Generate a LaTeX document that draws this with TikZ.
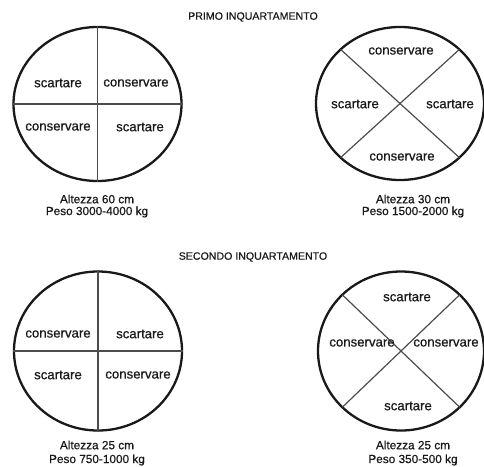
\documentclass[tikz,border=0pt]{standalone}
\usepackage{fontspec}
\setmainfont{Liberation Sans}[FakeBold=0.6]
\usetikzlibrary{shapes.geometric}
\begin{document}
\begin{tikzpicture}[x=1pt,y=-1pt,
  disc/.style={draw=black!90, line width=2.3pt, ellipse, inner sep=0pt},
  divider/.style={draw=black!70, line width=1.2pt},
  lbl/.style={font=\fontsize{13.2}{15}\selectfont, text=black!90, inner sep=0pt},
  captxt/.style={font=\fontsize{11.8}{14}\selectfont, text=black!90, inner sep=0pt, align=center},
  ttl/.style={font=\fontsize{10.6}{13}\selectfont, text=black!90, inner sep=0pt}]
\useasboundingbox (0,0) rectangle (484,466);

% titles
\node[ttl] (t1) at (253,17) {PRIMO INQUARTAMENTO};
\node[ttl] (t2) at (253,257) {SECONDO INQUARTAMENTO};

% top left
\node[disc, minimum width=168pt, minimum height=154pt] (A) at (97.5,104) {};
\draw[divider] (A.north) -- (A.south);
\draw[divider] (A.west) -- (A.east);
\node[lbl] (a1) at (58,83) {scartare};
\node[lbl] (a2) at (136,83) {conservare};
\node[lbl] (a3) at (58,127) {conservare};
\node[lbl] (a4) at (140,127) {scartare};
\node[captxt] (ac1) at (97,199) {Altezza 60 cm};
\node[captxt] (ac2) at (97,212) {Peso 3000-4000 kg};

% top right
\node[disc, minimum width=168pt, minimum height=153pt] (B) at (400,103.5) {};
\path (B.center) ++(45:84pt and 76.5pt) coordinate (B-ne);
\path (B.center) ++(135:84pt and 76.5pt) coordinate (B-nw);
\path (B.center) ++(225:84pt and 76.5pt) coordinate (B-sw);
\path (B.center) ++(315:84pt and 76.5pt) coordinate (B-se);
\draw[divider] (B-nw) -- (B-se);
\draw[divider] (B-ne) -- (B-sw);
\node[lbl] (b1) at (401,51) {conservare};
\node[lbl] (b2) at (355,104) {scartare};
\node[lbl] (b3) at (450,104) {scartare};
\node[lbl] (b4) at (402,157) {conservare};
\node[captxt] (bc1) at (413,199) {Altezza 30 cm};
\node[captxt] (bc2) at (413,212) {Peso 1500-2000 kg};

% bottom left
\node[disc, minimum width=168pt, minimum height=159pt] (C) at (98,351) {};
\draw[divider] (C.north) -- (C.south);
\draw[divider] (C.west) -- (C.east);
\node[lbl] (c1) at (58,334) {conservare};
\node[lbl] (c2) at (140,334) {scartare};
\node[lbl] (c3) at (58,375) {scartare};
\node[lbl] (c4) at (138,375) {conservare};
\node[captxt] (cc1) at (97,445) {Altezza 25 cm};
\node[captxt] (cc2) at (97,460) {Peso 750-1000 kg};

% bottom right
\node[disc, minimum width=166pt, minimum height=159pt] (D) at (401,351) {};
\path (D.center) ++(45:83pt and 79.5pt) coordinate (D-ne);
\path (D.center) ++(135:83pt and 79.5pt) coordinate (D-nw);
\path (D.center) ++(225:83pt and 79.5pt) coordinate (D-sw);
\path (D.center) ++(315:83pt and 79.5pt) coordinate (D-se);
\draw[divider] (D-nw) -- (D-se);
\draw[divider] (D-ne) -- (D-sw);
\node[lbl] (d1) at (407,297) {scartare};
\node[lbl] (d2) at (362,343) {conservare};
\node[lbl] (d3) at (446,343) {conservare};
\node[lbl] (d4) at (408,406) {scartare};
\node[captxt] (dc1) at (413,445) {Altezza 25 cm};
\node[captxt] (dc2) at (413,460) {Peso 350-500 kg};
\end{tikzpicture}
\end{document}
